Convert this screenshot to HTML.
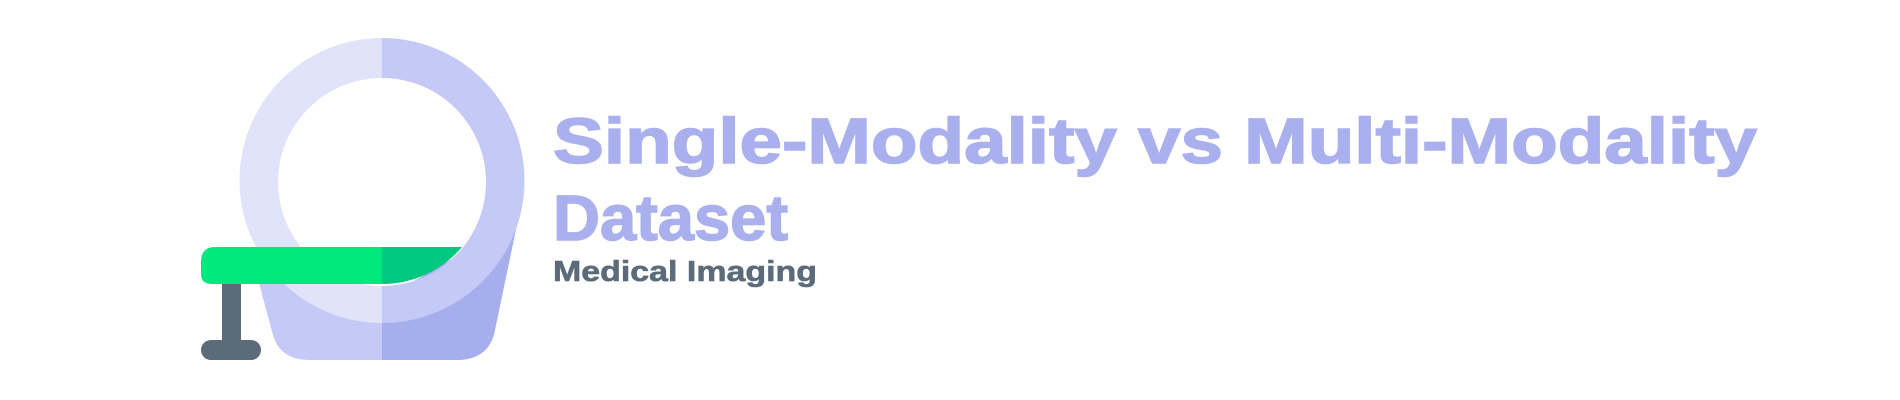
<!DOCTYPE html>
<html><head><meta charset="utf-8"><style>
html,body{margin:0;padding:0;background:#fff;}
svg{display:block;}
</style></head><body>
<svg width="1900" height="400" viewBox="0 0 1900 400" xmlns="http://www.w3.org/2000/svg">
  <path d="M250 250 L273 335 Q280 360 310 360 L382 360 L382 300 Z" fill="#c5c9f6"/>
  <path d="M382 300 L382 360 L460 360 Q490 358 495 330 L518 220 Z" fill="#a7aeee"/>
  <path d="M382 38 A142 142 0 0 0 382 323 L382 286 A104 104 0 0 1 382 78 Z" fill="#e0e3fa"/>
  <path d="M382 38 A142 142 0 0 1 382 323 L382 286 A104 104 0 0 0 382 78 Z" fill="#c5c9f6"/>
  <path d="M215 247 L382 247 L382 284 L212 284 Q201 284 201 274 L201 262 Q201 247 215 247 Z" fill="#00e87e"/>
  <path d="M382 247 L462 247 A104 104 0 0 1 382 284 Z" fill="#00c880"/>
  <rect x="222" y="284" width="19" height="58" fill="#5c6b7a"/>
  <rect x="201" y="340" width="60" height="20" rx="10" fill="#5c6b7a"/>
  <text x="553" y="163" font-family="Liberation Sans, Arial, sans-serif" font-weight="bold" font-size="64" fill="#aab0ee" stroke="#aab0ee" stroke-width="1.5" textLength="1204" lengthAdjust="spacingAndGlyphs">Single-Modality vs Multi-Modality</text>
  <text x="553" y="240" font-family="Liberation Sans, Arial, sans-serif" font-weight="bold" font-size="64" fill="#aab0ee" stroke="#aab0ee" stroke-width="1.5" textLength="235" lengthAdjust="spacingAndGlyphs">Dataset</text>
  <text x="553" y="281" font-family="Liberation Sans, Arial, sans-serif" font-weight="bold" font-size="29" fill="#5c6b7a" stroke="#5c6b7a" stroke-width="0.6" textLength="264" lengthAdjust="spacingAndGlyphs">Medical Imaging</text>
</svg>
</body></html>
